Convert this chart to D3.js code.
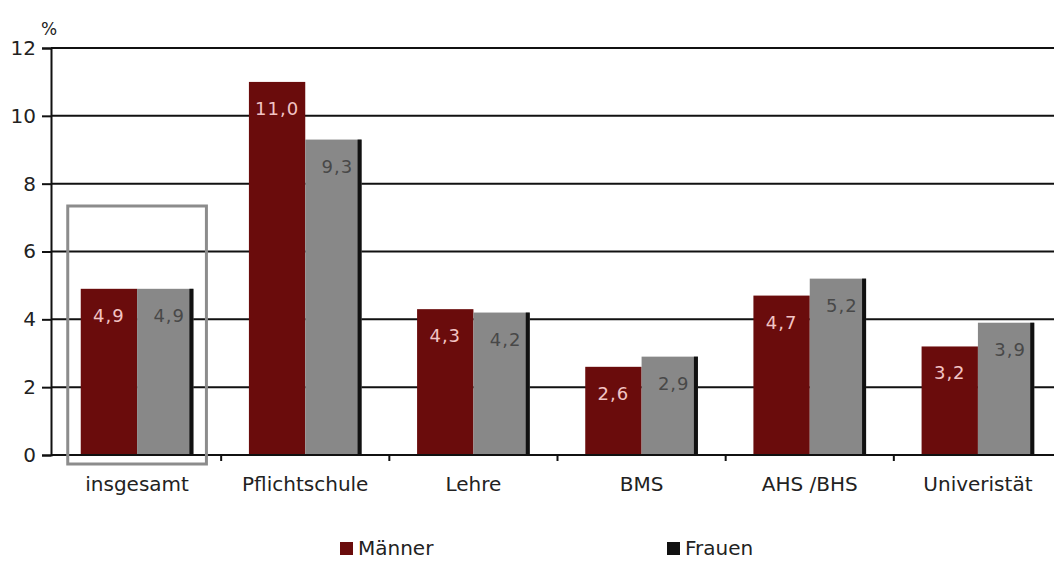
<!DOCTYPE html>
<html><head><meta charset="utf-8">
<script src="https://cdn.jsdelivr.net/npm/d3@7"></script>
<style>body{margin:0;background:#fff}svg{display:block}</style>
</head><body>
<script>
const categories = ["insgesamt","Pflichtschule","Lehre","BMS","AHS /BHS","Univeristät"];
const maenner = [4.9, 11.0, 4.3, 2.6, 4.7, 3.2];
const frauen  = [4.9, 9.3, 4.2, 2.9, 5.2, 3.9];
const seriesNames = ["Männer","Frauen"];
const yTicks = [0,2,4,6,8,10,12];

const W = 1054, H = 561;
const svg = d3.select("body").append("svg").attr("width", W).attr("height", H);
const font = "DejaVu Sans, Verdana, sans-serif";

const y = d3.scaleLinear().domain([0,12]).range([455,48]);
const x = d3.scaleBand().domain(categories).range([53,1062]).paddingInner(0.33).paddingOuter(0.165);
const xs = d3.scaleBand().domain(seriesNames).range([0, x.bandwidth()]);

// gridlines
svg.append("g").selectAll("line").data(yTicks.filter(d=>d>0)).join("line")
  .attr("x1",51).attr("x2",1054).attr("y1",d=>y(d)).attr("y2",d=>y(d))
  .attr("stroke","#111").attr("stroke-width",2);

// y axis
const yAxis = d3.axisLeft(y).tickValues(yTicks).tickSize(9).tickPadding(6).tickFormat(d3.format("d"));
const ga = svg.append("g").attr("transform","translate(51,0)").call(yAxis);
ga.select(".domain").attr("stroke","#111").attr("stroke-width",2);
ga.selectAll(".tick line").attr("stroke","#111").attr("stroke-width",2);
ga.selectAll(".tick text").attr("font-family",font).attr("font-size",20).attr("fill","#222");

svg.append("text").attr("x",41).attr("y",35).attr("font-family",font).attr("font-size",17).attr("fill","#222").text("%");

const colors = {"Männer":"#6a0c0c","Frauen":"#888888"};
const labelColors = {"Männer":"#f2c4c4","Frauen":"#484848"};
const labelShift = {"Männer":0,"Frauen":4};
const data = categories.map((c,i)=>({c, vals:[{s:"Männer",v:maenner[i]},{s:"Frauen",v:frauen[i]}]}));

const g = svg.append("g").selectAll("g").data(data).join("g")
  .attr("transform",d=>`translate(${x(d.c)},0)`);
g.selectAll("rect.bar").data(d=>d.vals).join("rect").attr("class","bar")
  .attr("x",d=>xs(d.s)).attr("width",xs.bandwidth())
  .attr("y",d=>y(d.v)).attr("height",d=>y(0)-y(d.v))
  .attr("fill",d=>colors[d.s]);
// dark right edge on gray bars
g.selectAll("rect.edge").data(d=>d.vals.filter(v=>v.s==="Frauen")).join("rect").attr("class","edge")
  .attr("x",d=>xs(d.s)+xs.bandwidth()-4).attr("width",4)
  .attr("y",d=>y(d.v)).attr("height",d=>y(0)-y(d.v))
  .attr("fill","#111");
g.selectAll("text.val").data(d=>d.vals).join("text").attr("class","val")
  .attr("x",d=>xs(d.s)+xs.bandwidth()/2+labelShift[d.s]).attr("y",d=>y(d.v)+33)
  .attr("text-anchor","middle").attr("font-family",font).attr("font-size",18)
  .attr("letter-spacing",1)
  .attr("fill",d=>labelColors[d.s])
  .text(d=>d3.format(".1f")(d.v).replace(".",","));

// x axis line
svg.append("line").attr("x1",51).attr("x2",1054).attr("y1",y(0)).attr("y2",y(0)).attr("stroke","#111").attr("stroke-width",2);
// boundary ticks
const step = x.step();
svg.append("g").selectAll("line").data(categories.slice(1)).join("line")
  .attr("x1",d=>x(d)-(step-x.bandwidth())/2).attr("x2",d=>x(d)-(step-x.bandwidth())/2)
  .attr("y1",y(0)).attr("y2",y(0)+6).attr("stroke","#111").attr("stroke-width",2);

// category labels
svg.append("g").selectAll("text").data(categories).join("text")
  .attr("x",d=>x(d)+x.bandwidth()/2).attr("y",491)
  .attr("text-anchor","middle").attr("font-family",font).attr("font-size",20).attr("fill","#222")
  .text(d=>d);

// highlight box around insgesamt
svg.append("rect").attr("x",x(categories[0])-13).attr("y",206)
  .attr("width",x.bandwidth()+26).attr("height",258)
  .attr("fill","none").attr("stroke","#8c8c8c").attr("stroke-width",3);

// legend
const legend = [{s:"Männer",x:340,fill:"#6a0c0c"},{s:"Frauen",x:667,fill:"#111"}];
const lg = svg.append("g").selectAll("g").data(legend).join("g").attr("transform",d=>`translate(${d.x},0)`);
lg.append("rect").attr("x",0).attr("y",542).attr("width",13).attr("height",13).attr("fill",d=>d.fill);
lg.append("text").attr("x",18).attr("y",555).attr("font-family",font).attr("font-size",20).attr("fill","#222").text(d=>d.s);
</script>
</body></html>
